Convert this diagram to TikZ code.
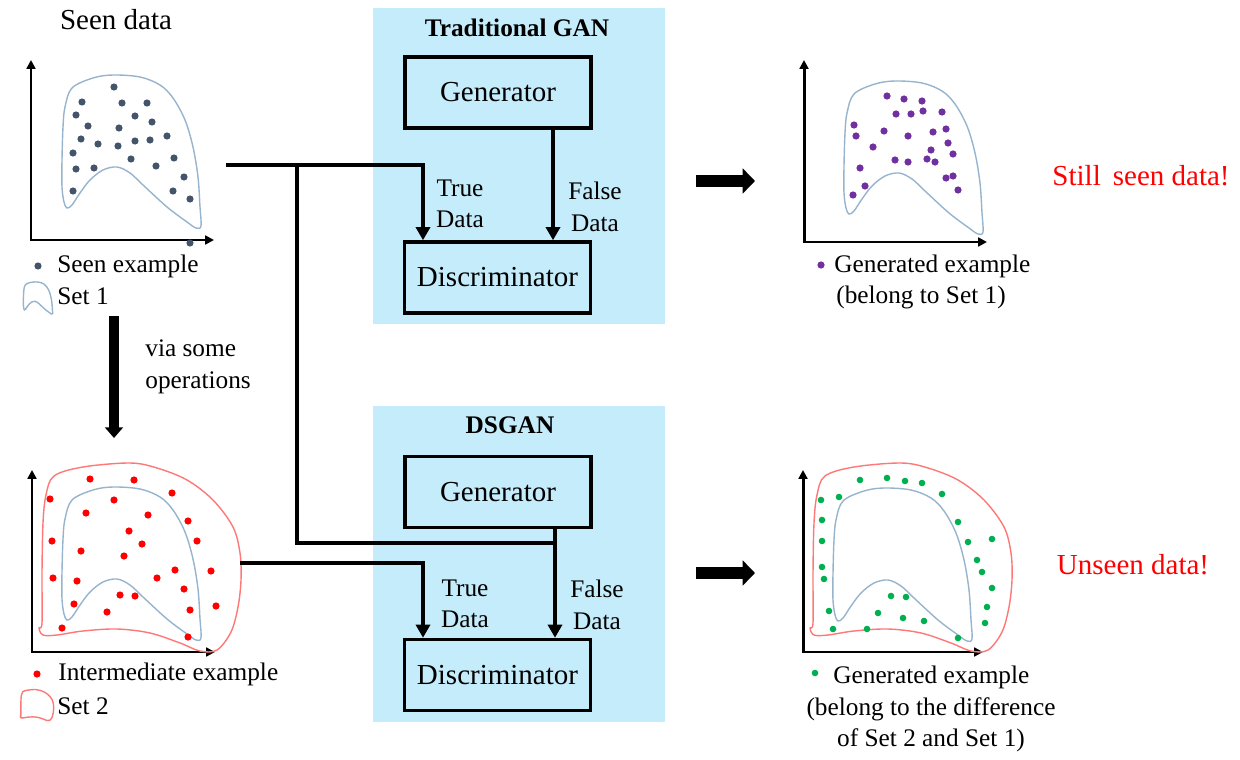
\documentclass[tikz,border=0pt]{standalone}
\usepackage{fontspec}
\setmainfont{Liberation Serif}
\usetikzlibrary{arrows.meta}
\definecolor{boxblue}{RGB}{197,236,250}
\definecolor{setone}{RGB}{150,180,205}
\definecolor{settwo}{RGB}{255,120,120}
\definecolor{seendot}{RGB}{68,84,106}
\definecolor{gendot}{RGB}{112,48,160}
\definecolor{greendot}{RGB}{0,176,80}
\definecolor{interdot}{RGB}{255,0,0}
\newcommand{\setoneshape}[1]{\draw[setoneline,#1] plot[smooth cycle, tension=0.55] coordinates {(72,88) (93,78) (113,75) (140,77) (160,85) (173,98) (185,120) (193,147) (198,177) (200,207) (201,226) (196,228) (187,222) (167,207) (143,185) (130,173) (117,167) (103,170) (90,180) (80,193) (72,205) (67,208) (64,202) (62,187) (62,160) (63,127) (65,107)};}
\newcommand{\settwoshape}[1]{\draw[settwoline,#1] plot[smooth cycle, tension=0.55] coordinates {(42,623) (42,573) (43,523) (46,495) (54,476) (83,467) (130,463) (157,468) (187,480) (213,500) (233,527) (240,553) (241,580) (238,607) (231,632) (217,650) (200,651) (180,643) (150,633) (117,629) (83,631) (57,635) (43,635) (39,628)};}
\tikzset{
  big/.style={font=\fontsize{16.5}{19.8}\selectfont},
  mid/.style={font=\fontsize{14.4}{18}\selectfont},
  ttl/.style={font=\fontsize{14.4}{17.3}\selectfont\bfseries},
  panel/.style={fill=boxblue, draw=none, minimum width=5.84cm, minimum height=6.34cm, inner sep=0pt},
  unit/.style={draw, fill=boxblue, line width=2pt, minimum width=3.73cm, minimum height=1.42cm, inner sep=0pt, big},
  conn/.style={line width=2.3pt},
  arr/.style={-{Triangle[length=7.5pt,width=8pt]}},
  axis/.style={line width=1.7pt, {Triangle[length=5pt,width=5pt]}-{Triangle[length=5pt,width=5pt]}},
  setoneline/.style={draw=setone, line width=0.8pt},
  settwoline/.style={draw=settwo, line width=0.8pt},
  lbl/.style={inner sep=0pt, anchor=west},
  bigarrow/.style={line width=7pt, -{Triangle[length=7pt,width=14pt]}},
}
\begin{document}
\begin{tikzpicture}[x=0.02cm,y=-0.02cm]
\useasboundingbox (0,0) rectangle (1240,760);

% ---- panels
\node[panel] (P1) at (519,166) {};
\node[panel] (P2) at (519,564) {};
\node[ttl] (T1) at (517,28) {Traditional GAN};
\node[ttl] (T2) at (510,425) {DSGAN};
\node[unit] (G1) at (498,92.5) {Generator};
\node[unit] (D1) at (497.5,277.5) {Discriminator};
\node[unit] (G2) at (498,492) {Generator};
\node[unit] (D2) at (497.5,675) {Discriminator};

% ---- top-left plot (seen data)
\node[big] (seen) at (116,20) {Seen data};
\draw[axis] (31,60) -- (31,240) -- (214,240);
\setoneshape{}
\foreach \x/\y in {114/87, 82/102, 122/103, 147/103, 76/115, 135/116, 152/122, 88/126, 119/128, 81/139, 98/144, 118/146, 135/141, 150/140, 167/136, 73/153, 76/169, 94/168, 131/159, 156/166, 174/158, 184/177, 73/191, 173/191, 190/199, 190/243}
  \fill[seendot] (\x,\y) circle[radius=3.6];
\fill[seendot] (38,266) circle[radius=3.6];
\node[lbl, mid] (l1) at (57,266) {Seen example};
\setoneshape{shift={(38,298)},scale=0.21,shift={(-131.5,-151.5)}}
\node[lbl, mid] (l2) at (57,296) {Set 1};

% ---- via some operations
\coordinate (va) at (114,316);
\coordinate (vb) at (114,438);
\draw[line width=6pt, -{Triangle[length=6pt,width=10pt]}] (va) -- (vb);
\node[lbl, mid, align=left] (via) at (145,367) {via some\\ operations};

% ---- bottom-left plot (intermediate)
\draw[axis] (32,470) -- (32,652) -- (215,652);
\settwoshape{}
\setoneshape{shift={(0,412)}}
\foreach \x/\y in {90/479, 134/480, 50/499, 114/500, 172/493, 86/513, 148/515, 188/521, 129/531, 52/541, 142/544, 197/541, 81/551, 124/556, 53/578, 77/581, 157/578, 175/570, 211/571, 184/589, 120/595, 135/596, 74/604, 107/612, 190/610, 216/606, 62/628, 188/637}
  \fill[interdot] (\x,\y) circle[radius=3.6];
\fill[interdot] (37,674) circle[radius=3.6];
\node[lbl, mid] (l3) at (58,674) {Intermediate example};
\settwoshape{shift={(37,705)},scale=0.165,shift={(-140,-557)}}
\node[lbl, mid] (l4) at (57,706) {Set 2};

% ---- connectors
\coordinate (s1out) at (226,165);
\coordinate (br) at (297,165);
\coordinate (s2out) at (240,563);
\coordinate (tx) at (423,0);
\coordinate (f1) at (553,0);
\coordinate (jn) at (555,543);
\draw[conn, arr] (s1out) -| (D1.north -| tx);
\draw[conn, arr] (G1.south -| f1) -- (D1.north -| f1);
\draw[conn] (br) |- (jn);
\draw[conn, arr] (G2.south -| jn) -- (D2.north -| jn);
\draw[conn, arr] (s2out) -| (D2.north -| tx);
\node[mid, align=center, inner sep=0pt] (td1) at (460,204) {True\\Data};
\node[mid, align=center, inner sep=0pt] (fd1) at (595,207) {False\\Data};
\node[mid, align=center, inner sep=0pt] (td2) at (465,604) {True\\Data};
\node[mid, align=center, inner sep=0pt] (fd2) at (597,605) {False\\Data};

% ---- big arrows
\coordinate (ba1) at (696,181);
\coordinate (ba2) at (755,181);
\coordinate (bb1) at (696,573);
\coordinate (bb2) at (755,573);
\draw[bigarrow] (ba1) -- (ba2);
\draw[bigarrow] (bb1) -- (bb2);

% ---- top-right plot
\draw[axis] (804,60) -- (804,242) -- (987,242);
\setoneshape{shift={(782,6)}}
\foreach \x/\y in {887/96, 904/99, 922/101, 896/114, 911/114, 923/111, 942/112, 854/125, 856/136, 884/131, 908/136, 933/132, 946/129, 873/147, 931/150, 948/143, 953/154, 895/160, 908/162, 927/159, 935/162, 860/168, 946/178, 953/176, 865/186, 958/190, 853/195}
  \fill[gendot] (\x,\y) circle[radius=3.6];
\fill[gendot] (821,265) circle[radius=3.6];
\node[lbl, mid] (l5) at (834,266) {Generated example};
\node[mid, inner sep=0pt] (l6) at (921,297) {(belong to Set 1)};
\node[big, text=red] (still) at (1141,176) {Still\, seen data!};

% ---- bottom-right plot
\draw[axis] (803,470) -- (803,652) -- (983,652);
\settwoshape{shift={(771,0)}}
\setoneshape{shift={(771,413)}}
\foreach \x/\y in {860/480, 887/478, 905/481, 922/483, 942/494, 821/500, 839/497, 822/520, 958/522, 822/541, 968/542, 992/539, 977/560, 982/572, 822/567, 824/579, 992/588, 891/596, 906/597, 987/607, 829/611, 878/613, 903/618, 924/621, 985/623, 833/629, 867/629, 958/638}
  \fill[greendot] (\x,\y) circle[radius=3.3];
\fill[greendot] (815,673) circle[radius=3.3];
\node[lbl, mid] (l7) at (833,677) {Generated example};
\node[mid, inner sep=0pt] (l8) at (931,709) {(belong to the difference};
\node[mid, inner sep=0pt] (l9) at (931,740) {of Set 2 and Set 1)};
\node[big, text=red] (unseen) at (1133,565) {Unseen data!};
\end{tikzpicture}
\end{document}
